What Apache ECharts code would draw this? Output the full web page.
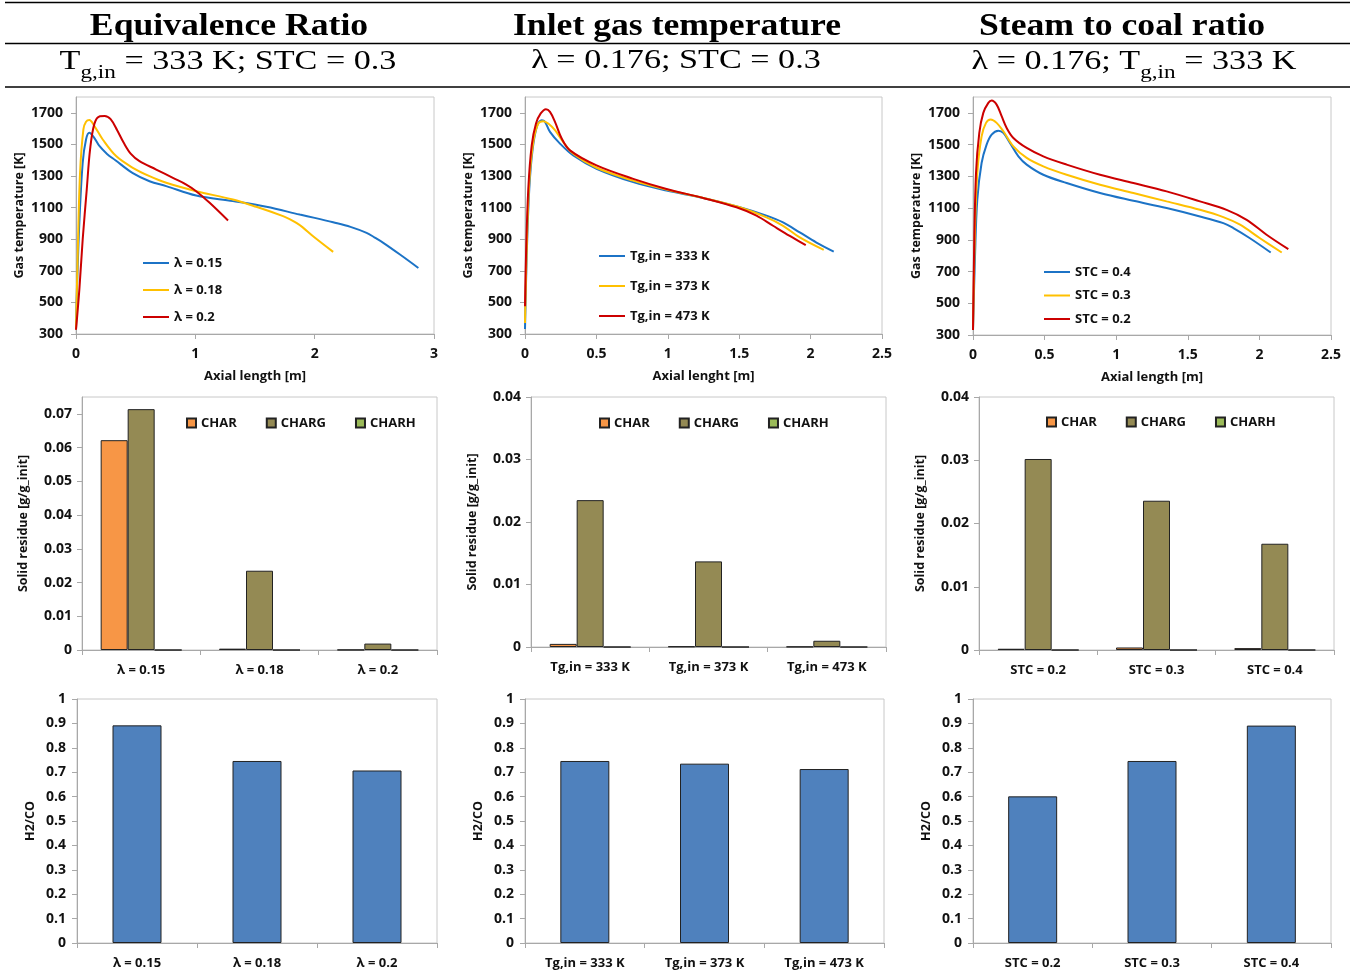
<!DOCTYPE html>
<html>
<head>
<meta charset="utf-8">
<script src="https://cdn.jsdelivr.net/npm/echarts@6/dist/echarts.min.js"></script>
<style>
html, body { margin: 0; padding: 0; background: #fff; }
#main { width: 1363px; height: 977px; }
</style>
</head>
<body>
<div id="main"></div>
<script>
// gas temperature profiles [axial length m, T K]
var lam015 = [[0,330],[0.008,581],[0.028,1003],[0.056,1383],[0.084,1531],[0.112,1573],[0.15,1545],[0.196,1490],[0.26,1440],[0.33,1400],[0.476,1318],[0.616,1267],[0.756,1236],[1.007,1176],[1.315,1141],[1.595,1105],[1.875,1056],[2.0,1035],[2.155,1007],[2.3,978],[2.435,940],[2.5,912],[2.575,877],[2.715,803],[2.869,718]];
var lam018 = [[0,330],[0.014,792],[0.034,1320],[0.062,1595],[0.084,1643],[0.112,1654],[0.154,1616],[0.224,1531],[0.336,1426],[0.476,1352],[0.616,1299],[0.756,1257],[1.007,1204],[1.315,1151],[1.511,1105],[1.735,1046],[1.79,1027],[1.847,1003],[1.9,975],[1.987,919],[2.155,820]];
var lam020 = [[0,327],[0.028,581],[0.056,898],[0.09,1214],[0.118,1468],[0.154,1630],[0.2,1678],[0.24,1680],[0.29,1660],[0.345,1590],[0.4,1510],[0.46,1440],[0.532,1394],[0.672,1341],[0.812,1288],[0.924,1246],[1.007,1204],[1.12,1130],[1.274,1018]];

var tg333 = [[0,332],[0.012,794],[0.03,1218],[0.054,1473],[0.086,1621],[0.117,1653],[0.14,1643],[0.175,1579],[0.245,1505],[0.338,1430],[0.501,1346],[0.758,1261],[0.991,1208],[1.248,1161],[1.504,1102],[1.691,1049],[1.807,1006],[1.924,943],[2.041,879],[2.162,822]];
var tg373 = [[0,370],[0.012,837],[0.03,1261],[0.058,1515],[0.093,1632],[0.128,1647],[0.163,1632],[0.21,1590],[0.268,1515],[0.338,1441],[0.501,1352],[0.758,1271],[0.991,1214],[1.248,1161],[1.504,1102],[1.691,1038],[1.807,985],[1.924,911],[2.092,832]];
var tg473 = [[0,476],[0.007,794],[0.023,1218],[0.047,1494],[0.077,1632],[0.11,1696],[0.147,1723],[0.175,1706],[0.21,1643],[0.257,1537],[0.315,1462],[0.501,1367],[0.758,1282],[0.991,1218],[1.248,1161],[1.481,1102],[1.621,1049],[1.737,985],[1.854,921],[1.966,862]];

var stc04 = [[0,332],[0.014,795],[0.03,1153],[0.06,1384],[0.095,1500],[0.13,1563],[0.177,1588],[0.212,1574],[0.258,1510],[0.317,1426],[0.375,1374],[0.491,1310],[0.654,1258],[0.887,1195],[1.12,1146],[1.352,1100],[1.585,1047],[1.748,1005],[1.818,974],[1.934,910],[2.079,820]];
var stc03 = [[0,332],[0.014,963],[0.03,1321],[0.06,1552],[0.091,1637],[0.123,1658],[0.165,1637],[0.212,1584],[0.282,1489],[0.375,1416],[0.491,1363],[0.654,1310],[0.887,1247],[1.12,1195],[1.352,1142],[1.585,1089],[1.748,1043],[1.865,995],[2.004,910],[2.156,820]];
var stc02 = [[0,332],[0.007,795],[0.021,1321],[0.044,1574],[0.072,1700],[0.107,1763],[0.13,1778],[0.165,1752],[0.2,1679],[0.235,1605],[0.282,1542],[0.375,1479],[0.491,1426],[0.654,1374],[0.887,1310],[1.12,1258],[1.352,1205],[1.585,1142],[1.771,1089],[1.911,1026],[2.05,932],[2.202,841]];

// categories
var lamCats = ['λ = 0.15', 'λ = 0.18', 'λ = 0.2'];
var tgCats = ['Tg,in = 333 K', 'Tg,in = 373 K', 'Tg,in = 473 K'];
var stcCats = ['STC = 0.2', 'STC = 0.3', 'STC = 0.4'];

// solid residue [g/g_init]
var charLam = [0.0622, 0.0004, 0.00005];
var chargLam = [0.0714, 0.0235, 0.0019];
var charhLam = [0, 0, 0];
var charTg = [0.0005, 0.0001, 0.00005];
var chargTg = [0.0235, 0.0137, 0.001];
var charhTg = [0, 0, 0];
var charStc = [0.0002, 0.0004, 0.0003];
var chargStc = [0.0302, 0.0236, 0.0168];
var charhStc = [0, 0, 0];

// H2/CO
var h2coLam = [0.892, 0.746, 0.707];
var h2coTg = [0.746, 0.735, 0.713];
var h2coStc = [0.601, 0.746, 0.891];

var FONT = 'Open Sans';
var TXT = '#111';
var AXIS = '#a8a8a8';
var BLUE = '#1c73c6', YELLOW = '#ffc000', RED = '#cc0000';

var chart = echarts.init(document.getElementById('main'));

var grids = [
	{left: 76, top: 97, width: 358, height: 237},
	{left: 525, top: 97, width: 357, height: 237},
	{left: 973, top: 97, width: 358, height: 238},
	{left: 82, top: 397, width: 355, height: 253},
	{left: 531, top: 397, width: 355, height: 250},
	{left: 979, top: 397, width: 355, height: 253},
	{left: 77, top: 699, width: 360, height: 244},
	{left: 525, top: 699, width: 359, height: 244},
	{left: 973, top: 699, width: 358, height: 244}
];
grids.forEach(function(g){
	g.show = true;
	g.borderColor = '#c8c8c8';
	g.borderWidth = 1;
	g.containLabel = false;
});

function lbl(extra){
	var o = {color: TXT, fontFamily: FONT, fontWeight: 'bold', fontSize: 13};
	for (var k in extra) o[k] = extra[k];
	return o;
}
function plain(v){ return String(+v.toFixed(4)); }

function valX(idx, max, interval, name){
	return {
		type: 'value', gridIndex: idx, min: 0, max: max, interval: interval,
		name: name, nameLocation: 'middle', nameGap: 36,
		nameTextStyle: lbl({fontSize: 13}),
		axisLine: {show: true, lineStyle: {color: AXIS}},
		axisTick: {show: true, length: 5, lineStyle: {color: AXIS}},
		axisLabel: lbl({margin: 13, fontSize: 14, formatter: plain}),
		splitLine: {show: false}
	};
}
function catX(idx, cats){
	return {
		type: 'category', gridIndex: idx, data: cats,
		axisLine: {show: true, lineStyle: {color: AXIS}},
		axisTick: {show: true, length: 5, lineStyle: {color: AXIS}},
		axisLabel: lbl({margin: 14, fontSize: 13}),
		splitLine: {show: false}
	};
}
function valY(idx, min, max, interval, name, gap, margin, hideMax){
	return {
		type: 'value', gridIndex: idx, min: min, max: max, interval: interval,
		name: name, nameLocation: 'middle', nameGap: gap, nameRotate: 90,
		nameTextStyle: lbl({fontSize: 12.5}),
		axisLine: {show: true, lineStyle: {color: AXIS}},
		axisTick: {show: true, length: 5, lineStyle: {color: AXIS}},
		axisLabel: lbl({margin: margin, fontSize: 14, formatter: plain, showMaxLabel: !hideMax}),
		splitLine: {show: false}
	};
}

var xAxes = [
	valX(0, 3, 1, 'Axial length [m]'),
	valX(1, 2.5, 0.5, 'Axial lenght [m]'),
	valX(2, 2.5, 0.5, 'Axial length [m]'),
	catX(3, lamCats), catX(4, tgCats), catX(5, stcCats),
	catX(6, lamCats), catX(7, tgCats), catX(8, stcCats)
];
var yAxes = [
	valY(0, 300, 1800, 200, 'Gas temperature [K]', 50, 13, true),
	valY(1, 300, 1800, 200, 'Gas temperature [K]', 50, 13, true),
	valY(2, 300, 1800, 200, 'Gas temperature [K]', 50, 13, true),
	valY(3, 0, 0.075, 0.01, 'Solid residue [g/g_init]', 52, 10, true),
	valY(4, 0, 0.04, 0.01, 'Solid residue [g/g_init]', 52, 10, false),
	valY(5, 0, 0.04, 0.01, 'Solid residue [g/g_init]', 52, 10, false),
	valY(6, 0, 1, 0.1, 'H2/CO', 40, 11, false),
	valY(7, 0, 1, 0.1, 'H2/CO', 40, 11, false),
	valY(8, 0, 1, 0.1, 'H2/CO', 40, 11, false)
];

var series = [];
function line(idx, name, data, color){
	series.push({
		type: 'line', name: name, xAxisIndex: idx, yAxisIndex: idx,
		data: data, symbol: 'none', smooth: 0.35,
		lineStyle: {color: color, width: 2}, itemStyle: {color: color}
	});
}
line(0, 'λ = 0.15', lam015, BLUE);
line(0, 'λ = 0.18', lam018, YELLOW);
line(0, 'λ = 0.2', lam020, RED);
line(1, 'Tg,in = 333 K', tg333, BLUE);
line(1, 'Tg,in = 373 K', tg373, YELLOW);
line(1, 'Tg,in = 473 K', tg473, RED);
line(2, 'STC = 0.4', stc04, BLUE);
line(2, 'STC = 0.3', stc03, YELLOW);
line(2, 'STC = 0.2', stc02, RED);

function bar(idx, name, data, color, width){
	series.push({
		type: 'bar', name: name, xAxisIndex: idx, yAxisIndex: idx,
		data: data, barWidth: width, barGap: '0%',
		itemStyle: {color: color, borderColor: '#222', borderWidth: 1}
	});
}
var residue = [[charLam, chargLam, charhLam], [charTg, chargTg, charhTg], [charStc, chargStc, charhStc]];
residue.forEach(function(r, i){
	bar(3 + i, 'CHAR', r[0], '#f79646', 27);
	bar(3 + i, 'CHARG', r[1], '#948a54', 27);
	bar(3 + i, 'CHARH', r[2], '#9bbb59', 27);
});
[h2coLam, h2coTg, h2coStc].forEach(function(d, i){
	bar(6 + i, 'H2/CO', d, '#4f81bd', 49);
});

function lineLegend(left, top, gap, names){
	return {
		orient: 'vertical', left: left, top: top, padding: 0,
		itemWidth: 26, itemHeight: 14, itemGap: gap,
		itemStyle: {opacity: 0},
		textStyle: lbl({fontSize: 13, lineHeight: 14}), data: names, selectedMode: false
	};
}
function barLegend(left, top){
	return {
		orient: 'horizontal', left: left, top: top, padding: 0,
		itemWidth: 9, itemHeight: 9, itemGap: 29,
		icon: 'rect', textStyle: lbl({fontSize: 13, lineHeight: 14}),
		data: ['CHAR', 'CHARG', 'CHARH'], selectedMode: false
	};
}
var legends = [
	lineLegend(142, 256, 13, ['λ = 0.15', 'λ = 0.18', 'λ = 0.2']),
	lineLegend(598, 249, 16, ['Tg,in = 333 K', 'Tg,in = 373 K', 'Tg,in = 473 K']),
	lineLegend(1043, 265, 9.5, ['STC = 0.4', 'STC = 0.3', 'STC = 0.2']),
	barLegend(186, 416),
	barLegend(599, 416),
	barLegend(1046, 415)
];

// header table
var headLine = function(y){
	return {type: 'line', shape: {x1: 5, y1: y, x2: 1350, y2: y}, style: {stroke: '#000', lineWidth: 1.6}};
};
var serifRich = {
	a: {fontFamily: 'Liberation Serif', fontSize: 28, color: '#000'},
	s: {fontFamily: 'Liberation Serif', fontSize: 19, color: '#000', padding: [22, 0, 0, 0]}
};
function headText(x, y, text, bold){
	return {
		type: 'text', x: x, y: y, scaleX: bold ? 1.15 : 1.22,
		style: bold ? {text: text, fontFamily: 'Liberation Serif', fontSize: 31, fontWeight: 'bold', fill: '#000', align: 'center', verticalAlign: 'middle'}
			: {text: text, rich: serifRich, align: 'center', verticalAlign: 'middle'}
	};
}
var graphics = [
	headLine(2.5), headLine(43.5), headLine(87),
	headText(229, 27, 'Equivalence Ratio', true),
	headText(677, 27, 'Inlet gas temperature', true),
	headText(1122, 27, 'Steam to coal ratio', true),
	headText(228, 62, '{a|T}{s|g,in}{a| = 333 K; STC = 0.3}', false),
	headText(676, 61, '{a|λ = 0.176; STC = 0.3}', false),
	headText(1134, 62, '{a|λ = 0.176; T}{s|g,in}{a| = 333 K}', false)
];

chart.setOption({
	animation: false,
	backgroundColor: '#fff',
	grid: grids,
	xAxis: xAxes,
	yAxis: yAxes,
	legend: legends,
	series: series,
	graphic: graphics
});
</script>
</body>
</html>
